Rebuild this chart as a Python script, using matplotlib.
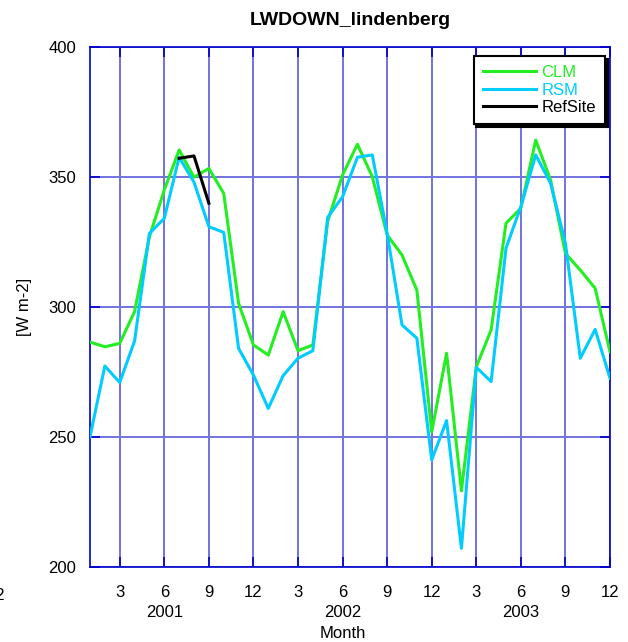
import matplotlib
matplotlib.use("Agg")
import matplotlib.pyplot as plt

plt.rcParams["font.family"] = ["Liberation Sans", "DejaVu Sans"]

# ------------------------------------------------------------------
# Data (monthly means, Jan 2001 - Dec 2003)
# ------------------------------------------------------------------
months = list(range(1, 37))

clm = [286.5, 284.7, 286.0, 298.2, 327.0, 345.0, 360.4, 349.9, 353.3, 343.7,
       301.4, 285.4, 281.5, 298.2, 283.2, 285.4, 333.0, 350.8, 362.6, 350.1,
       327.7, 320.0, 306.5, 252.0, 282.2, 229.3, 277.0, 291.2, 332.2, 338.0,
       364.2, 348.8, 320.6, 314.2, 307.2, 282.8]

rsm = [250.1, 277.3, 271.0, 286.9, 328.3, 334.1, 357.6, 348.0, 330.9, 328.7,
       284.1, 273.8, 261.0, 273.6, 280.3, 283.2, 334.5, 342.4, 357.6, 358.5,
       328.3, 293.1, 288.0, 241.2, 256.3, 207.2, 276.8, 271.3, 322.6, 338.6,
       358.5, 347.6, 324.5, 280.3, 291.4, 272.6]

ref_months = [7, 8, 9]
refsite = [357.2, 358.1, 339.9]

tick_pos = list(range(3, 37, 3))
tick_labels = ["3", "6", "9", "12"] * 3
year_pos = [6, 18, 30]
year_labels = ["2001", "2002", "2003"]

# ------------------------------------------------------------------
# Figure
# ------------------------------------------------------------------
fig = plt.figure(figsize=(6.28, 6.42), dpi=100)
ax = fig.add_axes([90 / 628, 75 / 642, 520 / 628, 520 / 642])

blue = "#0000cc"
green = "#22ee22"
cyan = "#00ccff"

ax.plot(months, clm, color=green, linewidth=2.2, label="CLM", zorder=3)
ax.plot(months, rsm, color=cyan, linewidth=2.2, label="RSM", zorder=3)
ax.plot(ref_months, refsite, color="black", linewidth=2.2, label="RefSite", zorder=4)

ax.set_xlim(1, 36)
ax.set_ylim(200, 400)
ax.set_yticks([200, 250, 300, 350, 400])
ax.set_xticks(tick_pos)
ax.set_xticklabels(tick_labels)

ax.grid(True, color="#7272e0", linewidth=1.4, linestyle="-")
ax.set_axisbelow(True)

for sp in ax.spines.values():
    sp.set_color(blue)
    sp.set_linewidth(1.2)

ax.tick_params(axis="both", which="major", direction="in", length=7,
               width=1.2, color=blue, top=True, right=True,
               labelsize=12, labelcolor="black")
ax.tick_params(axis="x", pad=13)
ax.tick_params(axis="y", pad=10)

# stray tick label left of the axes
ax.text(-5.3, -0.04, "12", transform=ax.get_xaxis_transform(),
        ha="center", va="top", fontsize=12, clip_on=False)

for p, lab in zip(year_pos, year_labels):
    ax.text(p, -0.073, lab, transform=ax.get_xaxis_transform(),
            ha="center", va="top", fontsize=12, clip_on=False)

ax.text(0.4865, -0.113, "Month", transform=ax.transAxes,
        ha="center", va="top", fontsize=12)

ax.set_ylabel("[W m-2]", fontsize=12, labelpad=12)
ax.set_title("LWDOWN_lindenberg", fontsize=14, fontweight="bold", pad=16)

leg = ax.legend(loc="upper right", bbox_to_anchor=(0.99, 0.983),
                borderaxespad=0, fontsize=12, fancybox=False,
                shadow={"facecolor": "black", "edgecolor": "black", "alpha": 1},
                framealpha=1, edgecolor="black", handlelength=3.2,
                labelspacing=0.15, handletextpad=0.3, borderpad=0.55)
leg.get_frame().set_linewidth(1.5)
for txt, col in zip(leg.get_texts(), [green, cyan, "black"]):
    txt.set_color(col)

plt.savefig("out.png", dpi=100)
plt.close()
